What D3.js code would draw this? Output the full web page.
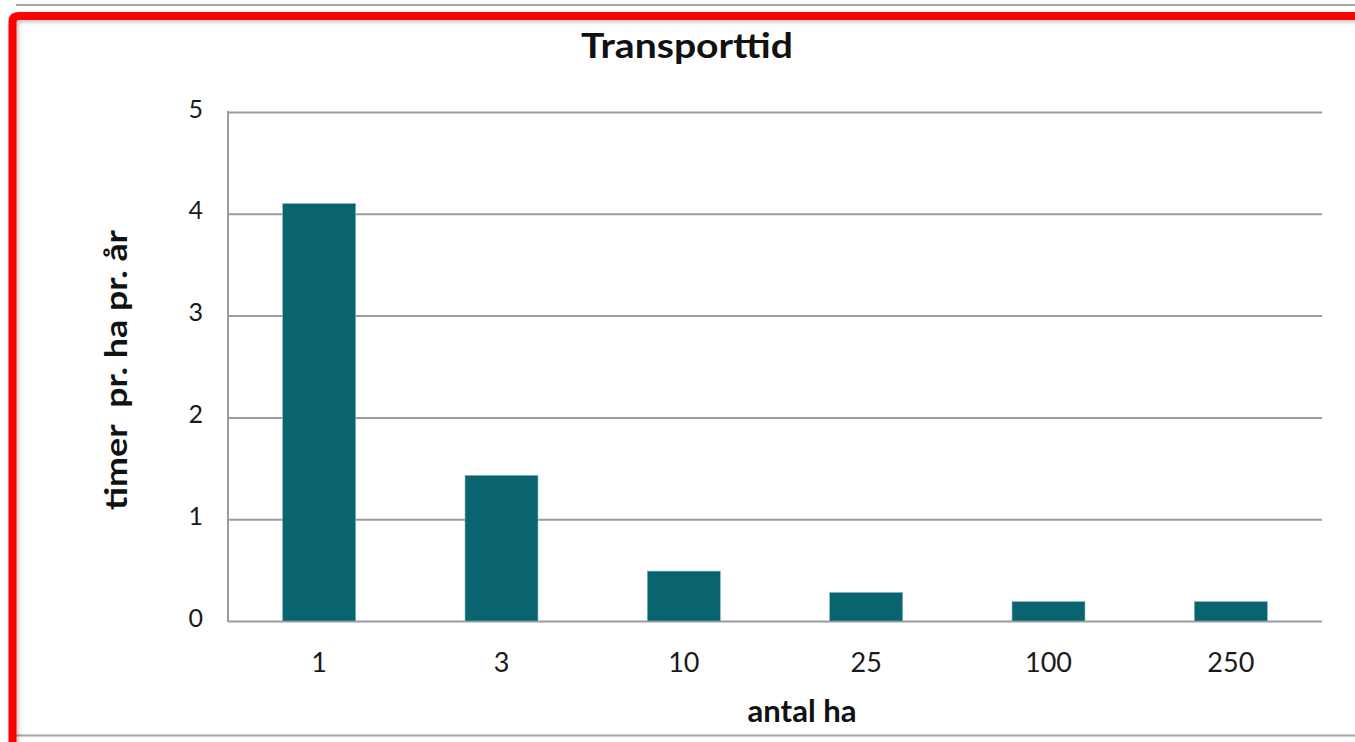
<!DOCTYPE html>
<html><head><meta charset="utf-8">
<script src="https://cdn.jsdelivr.net/npm/d3@7"></script>
<style>body{margin:0;background:#fff;}svg{display:block;}</style>
</head><body>
<svg id="c" width="1355" height="742"></svg>
<script>
const categories = ["1","3","10","25","100","250"];
const values = [4.1, 1.43, 0.49, 0.28, 0.19, 0.19];
const yTicks = [0,1,2,3,4,5];
const title = "Transporttid";
const xTitle = "antal ha";
const yTitle = "timer  pr. ha pr. år";

const svg = d3.select("#c");
const font = "Lato, 'Open Sans', sans-serif";
const M = {left:228, right:1322, top:112, bottom:621};

// frame
const defs = svg.append("defs");
const f = defs.append("filter").attr("id","sh").attr("x","-5%").attr("y","-5%").attr("width","110%").attr("height","110%");
f.append("feDropShadow").attr("dx",2).attr("dy",2).attr("stdDeviation",2).attr("flood-color","#000").attr("flood-opacity",0.25);
svg.append("line").attr("x1",16).attr("x2",1355).attr("y1",5).attr("y2",5).attr("stroke","#a6a6a6").attr("stroke-width",2);
svg.append("line").attr("x1",16).attr("x2",1355).attr("y1",735.5).attr("y2",735.5).attr("stroke","#a6a6a6").attr("stroke-width",2);
svg.append("path").attr("d","M12.5,760 L12.5,22 Q12.5,16 18.5,16 L1360,16")
  .attr("fill","none").attr("stroke","#ff0000").attr("stroke-width",8).attr("filter","url(#sh)");

const x = d3.scaleBand().domain(categories).range([M.left, M.right]).padding(0);
const y = d3.scaleLinear().domain([0,5]).range([M.bottom, M.top]);

// grid
svg.append("g").attr("transform",`translate(${M.left},0)`)
  .call(d3.axisLeft(y).tickValues(yTicks).tickSize(-(M.right-M.left)).tickFormat(""))
  .call(g=>g.select(".domain").remove())
  .call(g=>g.selectAll("line").attr("stroke","#9c9c9c").attr("stroke-width",2));
svg.append("line").attr("x1",M.left).attr("x2",M.left).attr("y1",M.top-1).attr("y2",M.bottom+1).attr("stroke","#9c9c9c").attr("stroke-width",2);

// y labels
svg.append("g").attr("transform",`translate(203,0)`)
  .call(d3.axisLeft(y).tickValues(yTicks).tickSize(0).tickPadding(0).tickFormat(d3.format("d")))
  .call(g=>g.select(".domain").remove())
  .call(g=>g.selectAll("text").attr("font-family",font).attr("font-size",25).attr("fill","#1a1a1a").attr("dy","0.2em"));

// bars
const bw = x.bandwidth()*0.4;
svg.append("g").selectAll("rect").data(values).join("rect")
  .attr("x",(d,i)=>x(categories[i])+x.bandwidth()/2-bw/2)
  .attr("width",bw)
  .attr("y",d=>y(d)).attr("height",d=>y(0)-y(d))
  .attr("fill","#0a6470").attr("stroke","#7fb0b6").attr("stroke-width",0.6);

// x labels
svg.append("g").attr("transform",`translate(0,${M.bottom})`)
  .call(d3.axisBottom(x).tickSize(0).tickPadding(0))
  .call(g=>g.select(".domain").remove())
  .call(g=>g.selectAll("text").attr("font-family",font).attr("font-size",27).attr("fill","#1a1a1a").attr("dy",0).attr("y",51));

// titles
svg.append("text").attr("x",687).attr("y",58).attr("text-anchor","middle")
  .attr("font-family",font).attr("font-weight","bold").attr("font-size",34).attr("fill","#111")
  .attr("textLength",212).attr("lengthAdjust","spacingAndGlyphs").text(title);
svg.append("text").attr("x",802).attr("y",722).attr("text-anchor","middle")
  .attr("font-family",font).attr("font-weight","bold").attr("font-size",31).attr("fill","#111")
  .attr("textLength",109).attr("lengthAdjust","spacingAndGlyphs").text(xTitle);
svg.append("text").attr("transform","translate(127,370) rotate(-90)").attr("text-anchor","middle")
  .attr("font-family",font).attr("font-weight","bold").attr("font-size",31).attr("fill","#111")
  .attr("xml:space","preserve").style("white-space","pre")
  .attr("textLength",280).attr("lengthAdjust","spacingAndGlyphs").text(yTitle);
</script>
</body></html>
